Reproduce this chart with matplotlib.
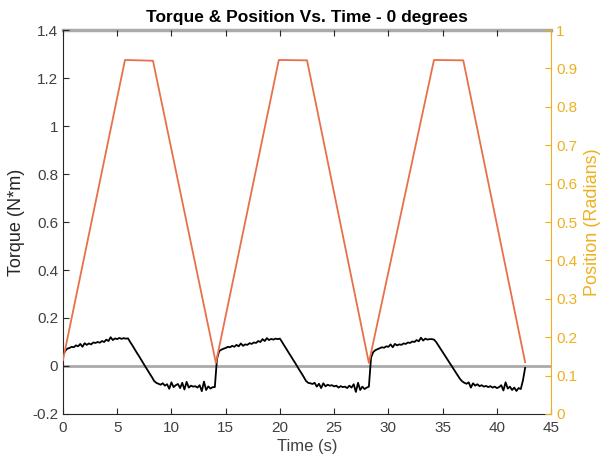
import numpy as np
import matplotlib
matplotlib.use("Agg")
import matplotlib.pyplot as plt

plt.rcParams['font.family'] = ['Liberation Sans', 'DejaVu Sans']

# Torque samples (N*m), every 0.2 s from t = 0 to 42.6 s
torque = [
    0.045, 0.062, 0.072, 0.075, 0.080, 0.078, 0.086, 0.082, 0.092, 0.080,
    0.095, 0.088, 0.094, 0.090, 0.098, 0.096, 0.100, 0.097, 0.104, 0.100,
    0.110, 0.104, 0.120, 0.108, 0.115, 0.112, 0.117, 0.113, 0.116, 0.114,
    0.115, 0.100, 0.086, 0.071, 0.056, 0.042, 0.027, 0.012, -0.003, -0.017,
    -0.032, -0.046, -0.062, -0.070, -0.074, -0.078, -0.072, -0.082, -0.076, -0.095,
    -0.068, -0.088, -0.080, -0.075, -0.092, -0.070, -0.098, -0.066, -0.090, -0.082,
    -0.086, -0.084, -0.090, -0.080, -0.105, -0.065, -0.100, -0.085, -0.094, -0.088,
    -0.088, 0.030, 0.062, 0.068, 0.072, 0.075, 0.080, 0.078, 0.084, 0.080,
    0.088, 0.082, 0.094, 0.084, 0.090, 0.088, 0.095, 0.092, 0.098, 0.096,
    0.104, 0.100, 0.112, 0.104, 0.116, 0.108, 0.113, 0.110, 0.114, 0.112,
    0.114, 0.100, 0.085, 0.071, 0.056, 0.042, 0.027, 0.013, -0.002, -0.017,
    -0.031, -0.046, -0.062, -0.070, -0.072, -0.075, -0.070, -0.086, -0.074, -0.092,
    -0.072, -0.085, -0.078, -0.082, -0.080, -0.085, -0.082, -0.090, -0.084, -0.088,
    -0.086, -0.092, -0.082, -0.090, -0.076, -0.108, -0.070, -0.100, -0.086, -0.096,
    -0.090, -0.086, 0.035, 0.058, 0.066, 0.070, 0.074, 0.078, 0.076, 0.082,
    0.080, 0.090, 0.078, 0.092, 0.086, 0.090, 0.088, 0.094, 0.092, 0.098,
    0.096, 0.102, 0.100, 0.108, 0.103, 0.118, 0.106, 0.114, 0.110, 0.112,
    0.112, 0.110, 0.100, 0.086, 0.072, 0.058, 0.044, 0.030, 0.016, 0.002,
    -0.012, -0.026, -0.040, -0.054, -0.064, -0.070, -0.074, -0.068, -0.090, -0.072,
    -0.082, -0.076, -0.084, -0.080, -0.086, -0.083, -0.088, -0.084, -0.090, -0.086,
    -0.092, -0.088, -0.080, -0.102, -0.068, -0.094, -0.086, -0.100, -0.090, -0.104,
    -0.092, -0.096, -0.060, -0.008,
]
torque_time = [round(i * 0.2, 1) for i in range(len(torque))]

# Position profile (radians): corner points of the trapezoidal motion
pos_time = [0.0, 5.72, 8.30, 14.1, 19.9, 22.5, 28.2, 34.2, 36.9, 42.6]
position = [0.140, 0.922, 0.920, 0.133, 0.922, 0.921, 0.133, 0.922, 0.921, 0.135]

axis_dark = '#262626'
gold = '#EDB120'
orange = '#E8704A'
gray = '#AAAAAA'

fig = plt.figure(figsize=(6.05, 4.66), dpi=100)
ax = fig.add_axes([0.104, 0.1116, 0.807, 0.824])
ax2 = ax.twinx()

ax.axhline(0, color=gray, lw=2, zorder=1)
ax.axhline(1.4, color=gray, lw=2.5, zorder=1, clip_on=False)
ax.plot(torque_time, torque, color='black', lw=1.3, zorder=3)
ax2.plot(pos_time, position, color=orange, lw=1.3, zorder=2)

ax.set_xlim(0, 45)
ax.set_ylim(-0.2, 1.4)
ax2.set_ylim(0, 1)
ax.set_xticks(np.arange(0, 46, 5))
ax.set_yticks([-0.2, 0, 0.2, 0.4, 0.6, 0.8, 1, 1.2, 1.4])
ax.set_yticklabels(['-0.2', '0', '0.2', '0.4', '0.6', '0.8', '1', '1.2', '1.4'])
ax2.set_yticks([0, 0.1, 0.2, 0.3, 0.4, 0.5, 0.6, 0.7, 0.8, 0.9, 1])
ax2.set_yticklabels(['0', '0.1', '0.2', '0.3', '0.4', '0.5', '0.6', '0.7', '0.8', '0.9', '1'])

for a in (ax, ax2):
    a.spines['top'].set_visible(False)
ax.spines['right'].set_visible(False)
ax2.spines['left'].set_visible(False)
ax2.spines['bottom'].set_visible(False)
ax.spines['left'].set_color(axis_dark)
ax.spines['bottom'].set_color(axis_dark)
ax2.spines['right'].set_color(gold)

ax.tick_params(axis='both', direction='in', length=4, colors=axis_dark,
               labelcolor='#404040', labelsize=11, top=True)
ax.tick_params(axis='x', pad=5)
ax2.tick_params(axis='y', direction='in', length=4, colors=gold,
                labelcolor=gold, labelsize=11)

ax.set_xlabel('Time (s)', fontsize=12, color='#404040', labelpad=3)
ax.set_ylabel('Torque (N*m)', fontsize=13, color='#262626', labelpad=5)
ax2.set_ylabel('Position (Radians)', fontsize=13, color=gold, labelpad=5)
ax.set_title('Torque & Position Vs. Time - 0 degrees', fontsize=12.5,
             fontweight='bold', color='black', pad=6)

fig.savefig('out.png', dpi=100)
